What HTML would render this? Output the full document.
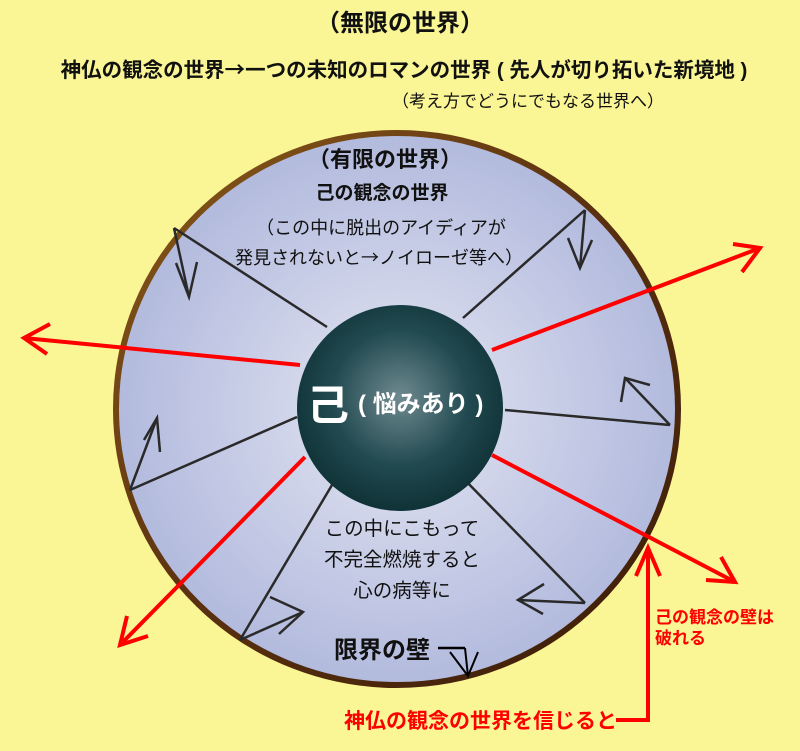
<!DOCTYPE html>
<html><head><meta charset="utf-8"><style>
body{margin:0;width:800px;height:746px;background:#faf595;overflow:hidden}
</style></head><body>
<svg width="800" height="746" xmlns="http://www.w3.org/2000/svg" font-family="Liberation Sans, Noto Sans CJK JP, sans-serif">
<defs>
<radialGradient id="eg" cx="50%" cy="50%" r="50%"><stop offset="0" stop-color="#e4e6f3"/><stop offset="1" stop-color="#b2badd"/></radialGradient>
<linearGradient id="br" x1="0" y1="0" x2="1" y2="1"><stop offset="0" stop-color="#8a5a1a"/><stop offset=".5" stop-color="#5a3010"/><stop offset="1" stop-color="#3a1c08"/></linearGradient>
<radialGradient id="cg" cx="50%" cy="45%" r="55%"><stop offset="0" stop-color="#6f8a90"/><stop offset=".6" stop-color="#214a50"/><stop offset="1" stop-color="#0f3236"/></radialGradient>
</defs>
<ellipse cx="397" cy="409" rx="281" ry="276" fill="url(#eg)" stroke="url(#br)" stroke-width="6"/>
<g stroke="#2a2a2a" stroke-width="2.5" fill="none">
<line x1="327" y1="327" x2="174" y2="228"/><polyline points="174,228 189,297"/><polyline points="176,263 189,297 197,262"/>
<line x1="463" y1="318" x2="585" y2="210"/><polyline points="585,210 580,268"/><polyline points="568,238 580,268 592,240"/>
<line x1="505" y1="410" x2="670" y2="425"/><polyline points="670,425 625,378"/><polyline points="621,402 625,378 650,385"/>
<line x1="297" y1="417" x2="130" y2="490"/><polyline points="130,490 157,418"/><polyline points="144,440 157,418 160,452"/>
<line x1="332" y1="485" x2="240" y2="640"/><polyline points="240,640 303,612"/><polyline points="270,597 303,612 279,634"/>
<line x1="462" y1="477" x2="585" y2="603"/><polyline points="585,603 518,600"/><polyline points="544,584 518,600 543,614"/>
</g>
<circle cx="400" cy="408" r="103" fill="url(#cg)"/>
<g stroke="#ff0000" stroke-width="4" fill="none">
<line x1="300" y1="365" x2="24" y2="338"/><polyline points="50,324 24,338 47,354"/>
<line x1="492" y1="350" x2="760" y2="248"/><polyline points="733,244 760,248 742,272"/>
<line x1="305" y1="457" x2="120" y2="645"/><polyline points="127,616 120,645 148,636"/>
<line x1="492" y1="455" x2="735" y2="582"/><polyline points="721,557 735,582 706,580"/>
<polyline points="616,720 648,720 648,548"/><polyline points="636,576 648,548 660,576"/>
</g>
<polyline points="438,648 465,648" stroke="#000" stroke-width="2.5" fill="none"/>
<polyline points="450,652 468,676 478,652" stroke="#000" stroke-width="2" fill="none"/>
<line x1="465" y1="648" x2="468" y2="676" stroke="#000" stroke-width="2"/>
<g text-anchor="middle" fill="#111">
<text x="400" y="31" font-size="24" font-weight="bold">（無限の世界）</text>
<text x="404" y="77" font-size="20.5" font-weight="bold">神仏の観念の世界<tspan font-family="Noto Sans CJK JP">→</tspan>一つの未知のロマンの世界 ( 先人が切り拓いた新境地 )</text>
<text x="528" y="107" font-size="17">（考え方でどうにでもなる世界へ）</text>
<text x="385" y="167" font-size="22" font-weight="bold">（有限の世界）</text>
<text x="382" y="199" font-size="19" font-weight="bold">己の観念の世界</text>
<text x="381" y="234" font-size="18">（この中に脱出のアイディアが</text>
<text x="379" y="264" font-size="18">発見されないと<tspan font-family="Noto Sans CJK JP">→</tspan>ノイローゼ等へ）</text>
<text x="402" y="535" font-size="19.5">この中にこもって</text>
<text x="402" y="566" font-size="19.5">不完全燃焼すると</text>
<text x="402" y="597" font-size="19.5">心の病等に</text>
</g>
<text x="334" y="658" font-size="24" font-weight="bold" fill="#111">限界の壁</text>
<text x="307" y="420" font-size="42" font-weight="bold" fill="#fff">己</text>
<text x="358" y="412" font-size="24" font-weight="bold" fill="#fff">( 悩みあり )</text>
<text x="655" y="623" font-size="17" font-weight="bold" fill="#f00">己の観念の壁は</text>
<text x="655" y="644" font-size="17" font-weight="bold" fill="#f00">破れる</text>
<text x="344" y="728" font-size="21" font-weight="bold" fill="#f00">神仏の観念の世界を信じると</text>
</svg>
</body></html>
